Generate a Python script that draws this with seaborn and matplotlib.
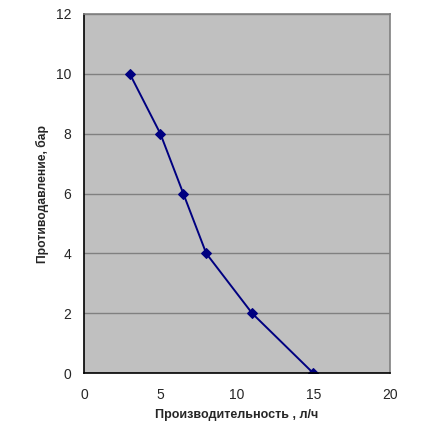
import numpy as np
import pandas as pd
import matplotlib
matplotlib.use('Agg')
import matplotlib.pyplot as plt
import seaborn as sns

flow = [3, 5, 6.5, 8, 11, 15]
pressure = [10, 8, 6, 4, 2, 0]
x_ticks = [0, 5, 10, 15, 20]
y_ticks = [0, 2, 4, 6, 8, 10, 12]

df = pd.DataFrame({'flow': flow, 'pressure': pressure})

sns.set_style('white')
plt.rcParams['font.family'] = ['Liberation Sans', 'DejaVu Sans']

fig = plt.figure(figsize=(4.37, 4.37), dpi=100)
ax = fig.add_axes([0.192, 0.146, 0.70, 0.822])
ax.set_facecolor('#c0c0c0')

sns.lineplot(data=df, x='flow', y='pressure', ax=ax, color='#000080',
             linewidth=1.4, marker='D', markersize=5, markeredgecolor='#000080',
             sort=False, estimator=None)

ax.set_xlim(0, 20)
ax.set_ylim(0, 12)
ax.set_xticks(x_ticks)
ax.set_yticks(y_ticks)
ax.yaxis.grid(True, color='#808080', linewidth=1)
ax.xaxis.grid(False)
ax.set_axisbelow(True)

for side in ['top', 'right']:
    ax.spines[side].set_color('#808080')
    ax.spines[side].set_linewidth(1.2)
for side in ['left', 'bottom']:
    ax.spines[side].set_color('black')
    ax.spines[side].set_linewidth(1.2)

ax.tick_params(axis='both', which='major', direction='out', length=4,
               width=1, color='black', labelsize=10, pad=5)
ax.tick_params(axis='x', pad=7)

ax.set_xlabel('Производительность , л/ч', fontsize=9, fontweight='bold', labelpad=5)
ax.set_ylabel('Противодавление, бар', fontsize=8.7, fontweight='bold', labelpad=5)

fig.savefig('out.png', dpi=100)
